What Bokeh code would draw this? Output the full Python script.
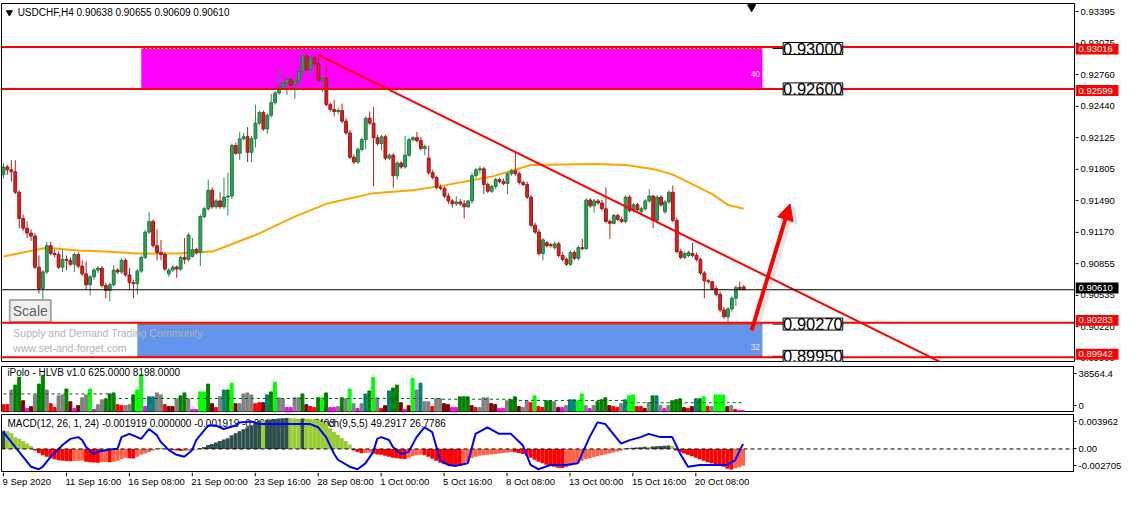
from bokeh.plotting import figure
from bokeh.models import (Range1d, FixedTicker, Span, Label, Arrow, NormalHead)
from bokeh.layouts import column, row
from bokeh.embed import file_html
from bokeh.resources import INLINE
from bokeh.core.properties import value

# ---------------- data ----------------
symbol = "USDCHF,H4"

open_ = [
    0.91750, 0.91827, 0.91798, 0.91779, 0.91576, 0.91316, 0.91220, 0.91171, 0.91142, 0.90834,
    0.90622, 0.90786, 0.91046, 0.90969, 0.90959, 0.90834, 0.90911, 0.90901, 0.90863, 0.90959,
    0.90844, 0.90767, 0.90660, 0.90738, 0.90805, 0.90824, 0.90651, 0.90603, 0.90660, 0.90805,
    0.90786, 0.90901, 0.90757, 0.90680, 0.90670, 0.90795, 0.90930, 0.91181, 0.91287, 0.91046,
    0.90979, 0.90959, 0.90767, 0.90805, 0.90834, 0.90815, 0.90930, 0.90911, 0.90940, 0.91008,
    0.90979, 0.91335, 0.91412, 0.91596, 0.91432, 0.91490, 0.91432, 0.91528, 0.91538, 0.92039,
    0.91962, 0.92106, 0.92126, 0.91972, 0.92106, 0.92261, 0.92367, 0.92203, 0.92338, 0.92463,
    0.92560, 0.92617, 0.92656, 0.92695, 0.92637, 0.92675, 0.92772, 0.92926, 0.92791, 0.92907,
    0.92849, 0.92685, 0.92704, 0.92444, 0.92396, 0.92376, 0.92386, 0.92280, 0.92164, 0.91923,
    0.91875, 0.92000, 0.92097, 0.92309, 0.92261, 0.92116, 0.92058, 0.92126, 0.91914, 0.91943,
    0.91740, 0.91865, 0.91827, 0.91943, 0.92097, 0.92116, 0.92087, 0.92010, 0.91914, 0.91769,
    0.91721, 0.91624, 0.91615, 0.91538, 0.91490, 0.91461, 0.91480, 0.91461, 0.91432, 0.91490,
    0.91740, 0.91798, 0.91808, 0.91653, 0.91586, 0.91634, 0.91702, 0.91682, 0.91663, 0.91759,
    0.91788, 0.91759, 0.91673, 0.91653, 0.91528, 0.91249, 0.91181, 0.90969, 0.91075, 0.91056,
    0.91027, 0.91065, 0.90950, 0.90911, 0.90863, 0.90979, 0.90921, 0.91027, 0.91017, 0.91499,
    0.91441, 0.91490, 0.91470, 0.91412, 0.91287, 0.91268, 0.91345, 0.91306, 0.91287, 0.91528,
    0.91393, 0.91451, 0.91383, 0.91412, 0.91490, 0.91538, 0.91297, 0.91528, 0.91383, 0.91480,
    0.91576, 0.91297, 0.90988, 0.90930, 0.90950, 0.90969, 0.90950, 0.90911, 0.90776, 0.90699,
    0.90689, 0.90622, 0.90564, 0.90410, 0.90342, 0.90420, 0.90526, 0.90632, 0.90638]

high = [
    0.91865, 0.91846, 0.91894, 0.91894, 0.91596, 0.91355, 0.91287, 0.91210, 0.91171, 0.90950,
    0.90805, 0.91085, 0.91085, 0.91008, 0.90988, 0.91008, 0.90950, 0.90930, 0.90979, 0.90979,
    0.90901, 0.90892, 0.90757, 0.90824, 0.90844, 0.90844, 0.90680, 0.90680, 0.90853, 0.90824,
    0.90921, 0.90921, 0.90824, 0.90709, 0.90815, 0.90950, 0.91200, 0.91383, 0.91306, 0.91210,
    0.91104, 0.90979, 0.90824, 0.90853, 0.90853, 0.90950, 0.91123, 0.91171, 0.91123, 0.91027,
    0.91355, 0.91432, 0.91702, 0.91624, 0.91509, 0.91576, 0.91721, 0.91769, 0.92058, 0.92068,
    0.92174, 0.92164, 0.92222, 0.92135, 0.92444, 0.92386, 0.92386, 0.92357, 0.92550, 0.92579,
    0.92791, 0.92675, 0.92714, 0.92714, 0.92695, 0.92791, 0.92955, 0.92955, 0.92926, 0.92926,
    0.92936, 0.92723, 0.92858, 0.92463, 0.92492, 0.92415, 0.92454, 0.92309, 0.92193, 0.91952,
    0.92020, 0.92116, 0.92328, 0.92376, 0.92425, 0.92145, 0.92145, 0.92145, 0.91962, 0.91962,
    0.91885, 0.91885, 0.92135, 0.92116, 0.92135, 0.92174, 0.92126, 0.92049, 0.92039, 0.91798,
    0.91740, 0.91653, 0.91634, 0.91567, 0.91509, 0.91538, 0.91509, 0.91499, 0.91499, 0.91769,
    0.91817, 0.91837, 0.91827, 0.91673, 0.91653, 0.91721, 0.91721, 0.91711, 0.91779, 0.91808,
    0.91972, 0.91779, 0.91692, 0.91682, 0.91547, 0.91277, 0.91210, 0.91123, 0.91094, 0.91075,
    0.91085, 0.91085, 0.90979, 0.90930, 0.90998, 0.90998, 0.91046, 0.91114, 0.91518, 0.91518,
    0.91509, 0.91509, 0.91499, 0.91624, 0.91306, 0.91364, 0.91364, 0.91335, 0.91547, 0.91547,
    0.91470, 0.91470, 0.91432, 0.91509, 0.91605, 0.91547, 0.91547, 0.91547, 0.91499, 0.91596,
    0.91644, 0.91326, 0.91017, 0.90988, 0.90998, 0.91075, 0.90979, 0.90930, 0.90795, 0.90718,
    0.90699, 0.90651, 0.90593, 0.90439, 0.90439, 0.90545, 0.90651, 0.90689, 0.90655]

low = [
    0.91711, 0.91750, 0.91682, 0.91557, 0.91220, 0.91191, 0.91123, 0.91094, 0.90815, 0.90574,
    0.90506, 0.90767, 0.90950, 0.90930, 0.90815, 0.90786, 0.90805, 0.90844, 0.90786, 0.90824,
    0.90747, 0.90612, 0.90554, 0.90709, 0.90776, 0.90632, 0.90526, 0.90497, 0.90641, 0.90767,
    0.90767, 0.90738, 0.90603, 0.90526, 0.90564, 0.90776, 0.90911, 0.91162, 0.91027, 0.90901,
    0.90901, 0.90795, 0.90738, 0.90786, 0.90728, 0.90795, 0.90863, 0.90892, 0.90930, 0.90959,
    0.90844, 0.91316, 0.91393, 0.91412, 0.91412, 0.91412, 0.91412, 0.91345, 0.91509, 0.91943,
    0.91894, 0.92087, 0.91875, 0.91875, 0.92020, 0.92241, 0.92184, 0.92155, 0.92319, 0.92444,
    0.92540, 0.92589, 0.92540, 0.92617, 0.92502, 0.92656, 0.92743, 0.92772, 0.92714, 0.92830,
    0.92666, 0.92569, 0.92425, 0.92376, 0.92328, 0.92347, 0.92261, 0.92145, 0.91904, 0.91856,
    0.91856, 0.91981, 0.92000, 0.92241, 0.91634, 0.92039, 0.91991, 0.91894, 0.91894, 0.91624,
    0.91702, 0.91808, 0.91808, 0.91923, 0.92078, 0.92068, 0.91991, 0.91943, 0.91750, 0.91702,
    0.91605, 0.91596, 0.91518, 0.91461, 0.91422, 0.91441, 0.91441, 0.91316, 0.91422, 0.91461,
    0.91721, 0.91759, 0.91557, 0.91567, 0.91567, 0.91605, 0.91663, 0.91644, 0.91557, 0.91740,
    0.91740, 0.91653, 0.91634, 0.91509, 0.91229, 0.91162, 0.90950, 0.90901, 0.91027, 0.91027,
    0.91008, 0.90930, 0.90892, 0.90844, 0.90844, 0.90901, 0.90901, 0.90998, 0.91008, 0.91422,
    0.91374, 0.91451, 0.91393, 0.91268, 0.91114, 0.91258, 0.91287, 0.91268, 0.91268, 0.91374,
    0.91374, 0.91383, 0.91364, 0.91393, 0.91470, 0.91220, 0.91277, 0.91432, 0.91364, 0.91461,
    0.91277, 0.90969, 0.90911, 0.90911, 0.90930, 0.90930, 0.90892, 0.90757, 0.90526, 0.90670,
    0.90603, 0.90545, 0.90391, 0.90323, 0.90285, 0.90391, 0.90448, 0.90603, 0.90609]

close = [
    0.91827, 0.91798, 0.91779, 0.91576, 0.91316, 0.91220, 0.91171, 0.91142, 0.90834, 0.90622,
    0.90786, 0.91046, 0.90969, 0.90959, 0.90834, 0.90911, 0.90901, 0.90863, 0.90959, 0.90844,
    0.90767, 0.90660, 0.90738, 0.90805, 0.90824, 0.90651, 0.90603, 0.90660, 0.90805, 0.90786,
    0.90901, 0.90757, 0.90680, 0.90670, 0.90795, 0.90930, 0.91181, 0.91287, 0.91046, 0.90979,
    0.90959, 0.90815, 0.90805, 0.90834, 0.90815, 0.90930, 0.90911, 0.91152, 0.91008, 0.90979,
    0.91335, 0.91412, 0.91596, 0.91432, 0.91490, 0.91432, 0.91528, 0.91538, 0.92039, 0.91962,
    0.92106, 0.92126, 0.91972, 0.92106, 0.92261, 0.92367, 0.92203, 0.92338, 0.92463, 0.92560,
    0.92617, 0.92656, 0.92695, 0.92637, 0.92675, 0.92772, 0.92926, 0.92791, 0.92907, 0.92849,
    0.92685, 0.92704, 0.92444, 0.92396, 0.92376, 0.92386, 0.92280, 0.92164, 0.91923, 0.91875,
    0.92000, 0.92097, 0.92309, 0.92261, 0.92116, 0.92058, 0.92126, 0.91914, 0.91943, 0.91740,
    0.91865, 0.91827, 0.91943, 0.92097, 0.92116, 0.92087, 0.92010, 0.92029, 0.91769, 0.91721,
    0.91624, 0.91615, 0.91538, 0.91490, 0.91461, 0.91480, 0.91461, 0.91432, 0.91490, 0.91740,
    0.91798, 0.91808, 0.91653, 0.91586, 0.91634, 0.91702, 0.91682, 0.91663, 0.91759, 0.91788,
    0.91759, 0.91673, 0.91653, 0.91528, 0.91249, 0.91181, 0.90969, 0.91104, 0.91046, 0.91046,
    0.91065, 0.90950, 0.90911, 0.90863, 0.90979, 0.90921, 0.91027, 0.91017, 0.91499, 0.91441,
    0.91490, 0.91470, 0.91412, 0.91287, 0.91268, 0.91345, 0.91306, 0.91287, 0.91528, 0.91393,
    0.91451, 0.91403, 0.91412, 0.91490, 0.91538, 0.91297, 0.91528, 0.91451, 0.91480, 0.91576,
    0.91297, 0.90988, 0.90930, 0.90969, 0.90979, 0.90950, 0.90911, 0.90776, 0.90699, 0.90689,
    0.90622, 0.90564, 0.90410, 0.90342, 0.90420, 0.90526, 0.90632, 0.90622, 0.90610]

# moving average (orange), sampled points
ma_idx = [0, 11, 19, 26, 34, 44, 49, 53, 57, 64, 74, 82, 94, 104, 112, 124, 134, 150,
          158, 166, 170, 174, 180, 184, 188]
ma_val = [0.90940, 0.91027, 0.90998, 0.90988, 0.90969, 0.90969, 0.90979, 0.90988, 0.91046,
          0.91152, 0.91335, 0.91461, 0.91567, 0.91596, 0.91644, 0.91731, 0.91846, 0.91856,
          0.91846, 0.91798, 0.91750, 0.91673, 0.91557, 0.91451, 0.91412]

# supply / demand zones
zone_left = [35, 34]
zone_right = [192.75, 192.75]
zone_top = [0.93000, 0.90270]
zone_bottom = [0.92600, 0.89950]
zone_strength = ["40", "32"]
level_lines = [0.93016, 0.92599, 0.90283, 0.89942]
level_labels = [0.93000, 0.92600, 0.90270, 0.89950]
trend_idx = [80, 240]
trend_val = [0.92938, 0.89854]
price_ticks = [0.93395, 0.93075, 0.92760, 0.92440, 0.92125, 0.91805, 0.91490, 0.91170,
               0.90855, 0.90535, 0.90220, 0.89900]

# volume indicator (iPolo HLVB)
volume = [
    5866, 5866, 18436, 22626, 29330, 9218, 2514, 4190, 14246, 23464,
    31006, 18436, 6704, 3352, 13408, 14246, 19274, 8380, 2514, 5028,
    11732, 14246, 19274, 1676, 5866, 10056, 10894, 15084, 15922, 5866,
    5028, 5028, 5866, 14246, 18436, 31844, 4190, 12570, 12570, 15922,
    14246, 5866, 4190, 4190, 10894, 13408, 15922, 10894, 1676, 1676,
    16760, 16760, 23464, 6704, 3352, 12570, 18436, 18436, 24302, 6704,
    6704, 15084, 15922, 14246, 6704, 7542, 7542, 14246, 16760, 25140,
    11732, 10894, 3352, 3352, 11732, 11732, 15084, 5866, 4190, 3352,
    11732, 11732, 15922, 3352, 3352, 4190, 11732, 10894, 19274, 6704,
    2514, 6704, 15084, 17598, 29330, 11732, 2514, 5028, 17598, 20112,
    22626, 7542, 1676, 5028, 28492, 18436, 24302, 8380, 8380, 4190,
    10894, 10894, 6704, 5866, 3352, 3352, 12570, 12570, 12570, 5028,
    3352, 3352, 11732, 11732, 6704, 5866, 2514, 2514, 9218, 10056,
    12570, 4190, 3352, 9218, 7542, 13408, 4190, 3352, 9218, 9218,
    8380, 3352, 3352, 5028, 10056, 10056, 9218, 15084, 5028, 2514,
    5028, 8380, 10056, 11732, 5028, 4190, 3352, 6704, 10056, 13408,
    14246, 4190, 4190, 2514, 7542, 13408, 13408, 5028, 2514, 5028,
    9218, 10056, 10894, 3352, 2514, 4190, 10894, 10894, 12570, 4190,
    4190, 14246, 14246, 14246, 4190, 5028, 1676, 838, 838]
vol_class = list(
    "RRYGGMPMYG" "GYRRYYGMPM" "YYLPYYGGGR" "RYYGLLPTTY" "YRMMYGGYPP"
    "LLGMRYTGLM" "YYYYRRMTGL" "YYPPYYGMRR" "GLGPPYGYLY" "PYTGLYRMTG"
    "GMPMLYTYYR" "YYMMPPGGGM" "RYYYMMPPYG" "GMYYRLRRGG" "YMPYTTLLYP"
    "YGGGMRRYTL" "LRRMYGTYPY" "GGGMRMTGLR" "YLLLMYRPP")
vol_avg_idx = [0, 27, 27, 111, 111, 131, 131, 158, 158, 188]
vol_avg = [15080, 15080, 11150, 11150, 10500, 10500, 9470, 9470, 7540, 7540]
vol_max = 38564.4

# MACD(12,26,1,24) histogram and Stoch(9,5,5) main line
macd = [
    0.002091, 0.002034, 0.001808, 0.001356, 0.001187, 0.000904, 0.000622, 0.000339, -0.000170, -0.000452,
    -0.000735, -0.000904, -0.001074, -0.001187, -0.001300, -0.001356, -0.001390, -0.001413, -0.001379, -0.001356,
    -0.001333, -0.001458, -0.001526, -0.001548, -0.001571, -0.001526, -0.001492, -0.001537, -0.001469, -0.001356,
    -0.001187, -0.001017, -0.001074, -0.001107, -0.000904, -0.000678, -0.000509, -0.000339, -0.000170, 0.000034,
    0.000057, 0.000034, -0.000057, -0.000113, -0.000170, -0.000226, -0.000203, -0.000170, -0.000136, -0.000057,
    0.000090, 0.000226, 0.000452, 0.000565, 0.000735, 0.000904, 0.001074, 0.001243, 0.001582, 0.001808,
    0.002034, 0.002260, 0.002486, 0.002712, 0.002938, 0.003277, 0.003254, 0.003334, 0.003390, 0.003447,
    0.003503, 0.003537, 0.003560, 0.003526, 0.003492, 0.003458, 0.003503, 0.003480, 0.003458, 0.003413,
    0.003334, 0.003164, 0.002938, 0.002373, 0.001978, 0.001639, 0.001243, 0.000904, 0.000509, -0.000170,
    -0.000339, -0.000486, -0.000452, -0.000418, -0.000509, -0.000622, -0.000678, -0.000791, -0.000904, -0.001017,
    -0.001074, -0.001130, -0.001153, -0.001017, -0.000848, -0.000735, -0.000678, -0.000735, -0.000904, -0.001130,
    -0.001356, -0.001582, -0.001752, -0.001842, -0.001898, -0.001921, -0.001944, -0.001808, -0.001469, -0.001074,
    -0.000904, -0.000791, -0.000735, -0.000678, -0.000622, -0.000565, -0.000509, -0.000452, -0.000396, -0.000339,
    -0.000373, -0.000452, -0.000565, -0.000791, -0.001017, -0.001243, -0.001469, -0.001639, -0.001808, -0.001921,
    -0.002034, -0.002147, -0.002181, -0.002091, -0.001921, -0.001752, -0.001582, -0.001356, -0.001187, -0.001074,
    -0.000961, -0.000848, -0.000735, -0.000622, -0.000509, -0.000396, -0.000283, -0.000170, 0.000057, 0.000090,
    0.000136, 0.000170, 0.000203, 0.000249, 0.000226, 0.000283, 0.000316, 0.000339, 0.000362, 0.000396,
    0.000339, -0.000170, -0.000339, -0.000509, -0.000678, -0.000848, -0.001017, -0.001187, -0.001356, -0.001526,
    -0.001639, -0.001752, -0.001865, -0.002034, -0.002260, -0.002373, -0.002204, -0.002091, -0.001919]
macd_lo, macd_hi = -0.002705, 0.003962

stoch_idx = [0, 2, 5, 7, 9, 10, 12, 15, 17, 19, 20, 21, 23, 24, 27, 29, 30, 32, 34, 35, 37, 39,
             40, 42, 44, 46, 48, 49, 52, 54, 56, 59, 60, 63, 65, 68, 73, 78, 80, 82, 84, 85, 88,
             90, 92, 94, 95, 96, 98, 99, 101, 103, 105, 107, 109, 111, 113, 115, 118, 120, 123,
             126, 129, 132, 134, 136, 139, 143, 146, 149, 151, 153, 155, 157, 159, 162, 164,
             167, 170, 172, 174, 177, 181, 184, 186, 188]
stoch_val = [69.5, 52.5, 27, 10, 5.6, 10, 27, 47.5, 58, 61, 56, 44, 32, 35.6, 39.5, 41, 61, 66.6,
             61, 58, 75, 64.4, 52.5, 39, 30.5, 27, 39, 56, 81, 81, 75, 81, 86.4, 88, 83.5, 83.5,
             83.5, 83.5, 78, 61, 32.7, 22, 10, 5.6, 15.8, 35.6, 58, 61, 56, 44, 32, 35.6, 61, 78,
             69.5, 21.5, 13, 11.4, 15.8, 66.6, 78, 66.6, 66.6, 47, 13, 5.6, 13, 13, 15.8, 61,
             86.4, 83.5, 66.6, 49.7, 55.4, 61, 66.6, 61, 61, 32.7, 10, 13, 13, 13, 21.5, 49.29]

date_idx = [0, 16, 32, 48, 64, 80, 96, 112, 128, 144, 160, 176]
date_labels = ["9 Sep 2020", "11 Sep 16:00", "16 Sep 08:00", "21 Sep 00:00", "23 Sep 16:00",
               "28 Sep 08:00", "1 Oct 00:00", "5 Oct 16:00", "8 Oct 08:00", "13 Oct 00:00",
               "15 Oct 16:00", "20 Oct 08:00"]

# ---------------- styling ----------------
FONT = "Liberation Sans"
W = 1124
RB = 50          # right border of lower panels (axis area)
AXW = RB - 1     # width of the main panel's price-scale strip
LB = 1
H_MAIN, H_VOL, H_MACD, H_DATES = 364, 48, 60, 21
MB = 3           # main panel top/bottom border
xr = Range1d(-0.5, 272)
vol_colors = {"L": "#00FF00", "G": "#008000", "Y": "#808080", "R": "#FF0000",
              "M": "#800000", "P": "#FF00FF", "T": "#008080"}


def style_axis(ax):
    ax.axis_line_color = "black"
    ax.major_tick_out = 3
    ax.major_tick_in = 0
    ax.minor_tick_line_color = None
    ax.major_label_standoff = 2
    ax.major_label_text_font = FONT
    ax.major_label_text_font_size = "9.5px"
    ax.major_label_text_color = "black"


def base_fig(height, y_range, top, bottom):
    f = figure(width=W, height=height, x_range=xr, y_range=y_range,
               output_backend="svg", toolbar_location=None,
               x_axis_location=None, y_axis_location="right",
               min_border_left=LB, min_border_right=RB,
               min_border_top=top, min_border_bottom=bottom)
    f.xgrid.visible = False
    f.ygrid.visible = False
    f.outline_line_color = "black"
    f.outline_line_width = 1
    f.border_fill_color = "white"
    style_axis(f.yaxis[0])
    return f


n = len(close)
idx = list(range(n))

# ---------------- main price panel ----------------
ymin, ymax = 0.89899, 0.93446
yr_main = Range1d(ymin, ymax)
p = figure(width=W - AXW, height=H_MAIN, x_range=xr, y_range=yr_main,
           output_backend="svg", toolbar_location=None,
           x_axis_location=None, y_axis_location=None,
           min_border_left=LB, min_border_right=1, min_border_top=MB, min_border_bottom=MB)
p.xgrid.visible = False
p.ygrid.visible = False
p.outline_line_color = "black"
p.border_fill_color = "white"
ppp = (H_MAIN - 2 * MB) / (ymax - ymin)   # pixels per price unit

# zones
zone_fill = ["#FF00FF", "#6495ED"]
zone_dash = ["#FFFF00", "#32CD32"]
p.quad(left=zone_left, right=zone_right, top=zone_top, bottom=zone_bottom,
       fill_color=zone_fill, line_color=None)
for l, r, t, b, dc in zip(zone_left, zone_right, zone_top, zone_bottom, zone_dash):
    p.segment(x0=[l, l], x1=[r, r], y0=[t, b], y1=[t, b], line_color="red", line_width=1)
    p.segment(x0=[l, l], x1=[r, r], y0=[t, b], y1=[t, b], line_color=dc,
              line_width=1, line_dash="2 2")
for t, b, r, s in zip(zone_top, zone_bottom, zone_right, zone_strength):
    frac = 0.37 if s == "40" else 0.29
    p.text(x=[r - 0.6], y=[b + frac * (t - b)], text=[s], text_align="right",
           text_baseline="middle", text_font=value(FONT), text_font_size="8.5px",
           text_color="#F4E4F4")

# watermark + Scale button
p.add_layout(Label(x=2.5, y=0.90178, text="Supply and Demand Trading Community",
                   text_font=FONT, text_font_size="10.5px", text_color="#B4B4B4",
                   text_baseline="middle"))
p.add_layout(Label(x=2.5, y=0.90034, text="www.set-and-forget.com",
                   text_font=FONT, text_font_size="10.5px", text_color="#B4B4B4",
                   text_baseline="middle"))
p.add_layout(Label(x=1.6, y=0.90400, text="Scale", text_font=FONT,
                   text_font_size="14px", text_color="#606060", text_baseline="middle",
                   background_fill_color="#F0F0F0", border_line_color="#A8A8A8",
                   border_line_width=2, padding=3))

# moving average
p.line(ma_idx, ma_val, line_color="#FFA500", line_width=2)

# candles
up = [c >= o for o, c in zip(open_, close)]
wick_col = ["#2E8B57" if u else "#B22222" for u in up]
body_fill = ["#2DA35A" if u else "#D42020" for u in up]
body_line = ["#1E7A40" if u else "#A81515" for u in up]
p.segment(x0=idx, x1=idx, y0=low, y1=high, line_color=wick_col, line_width=1)
p.vbar(x=idx, width=0.72, top=[max(o, c) for o, c in zip(open_, close)],
       bottom=[min(o, c) for o, c in zip(open_, close)],
       fill_color=body_fill, line_color=body_line, line_width=1)

# trend line
p.line(trend_idx, trend_val, line_color="red", line_width=2)

# horizontal levels
for lv in level_lines:
    p.add_layout(Span(location=lv, dimension="width", line_color="red", line_width=2))
p.add_layout(Span(location=close[-1], dimension="width", line_color="black", line_width=1))

# boxed level labels with leader lines
for lv in level_labels:
    p.segment(x0=[195.3], x1=[198], y0=[lv], y1=[lv], line_color="black", line_width=1)
    p.add_layout(Label(x=198, y=lv, text=f"{lv:.5f}", text_font=FONT,
                       text_font_size="16.5px", text_color="black",
                       text_baseline="middle", text_align="left",
                       background_fill_color="white", border_line_color="black",
                       border_line_width=1, padding=0))

# arrow (with soft shadow)
p.add_layout(Arrow(end=NormalHead(size=16, fill_color="#999999", line_color="#999999",
                                  fill_alpha=0.25, line_alpha=0.25),
                   x_start=191.0, y_start=0.90180, x_end=200.75, y_end=0.91434,
                   line_color="#999999", line_alpha=0.25, line_width=4))
p.add_layout(Arrow(end=NormalHead(size=16, fill_color="red", line_color="red"),
                   x_start=190, y_start=0.90207, x_end=199.75, y_end=0.91461,
                   line_color="red", line_width=4))

# header
title_y = ymax - 9 / ppp
p.add_layout(Label(x=3.6, y=title_y,
                   text=f"{symbol}  {open_[-1]:.5f} {high[-1]:.5f} {low[-1]:.5f} {close[-1]:.5f}",
                   text_font=FONT, text_font_size="10px", text_color="black",
                   text_baseline="middle"))
p.scatter(x=[1.5], y=[title_y], marker="inverted_triangle", size=6, color="black")
p.scatter(x=[n + 1], y=[ymax - 3.5 / ppp], marker="inverted_triangle", size=8,
          color="black")

# ---------------- main price scale strip (ticks, labels, price tags) ----------------
pa = figure(width=AXW, height=H_MAIN, x_range=Range1d(0, AXW),
            y_range=Range1d(ymin - MB / ppp, ymax + MB / ppp),
            output_backend="svg", toolbar_location=None,
            x_axis_location=None, y_axis_location=None,
            min_border_left=0, min_border_right=0, min_border_top=0, min_border_bottom=0)
pa.xgrid.visible = False
pa.ygrid.visible = False
pa.outline_line_color = None
pa.border_fill_color = "white"
pa.background_fill_color = "white"
nt = len(price_ticks)
pa.segment(x0=[0] * nt, x1=[3] * nt, y0=price_ticks, y1=price_ticks, line_color="black")
pa.text(x=[5] * nt, y=price_ticks, text=[f"{t:.5f}" for t in price_ticks],
        text_font=value(FONT), text_font_size="9.5px", text_color="black",
        text_baseline="middle", text_align="left")
tag_vals = level_lines + [close[-1]]
tag_cols = ["#FF0000"] * len(level_lines) + ["#000000"]
half = 5.5 / ppp
pa.quad(left=[0] * len(tag_vals), right=[43] * len(tag_vals),
        top=[v + half for v in tag_vals], bottom=[v - half for v in tag_vals],
        fill_color=tag_cols, line_color=None)
pa.text(x=[3] * len(tag_vals), y=tag_vals, text=[f"{v:.5f}" for v in tag_vals],
        text_font=value(FONT), text_font_size="9.5px", text_color="white",
        text_baseline="middle", text_align="left")

# ---------------- volume panel ----------------
pv = base_fig(H_VOL, Range1d(0, vol_max), 2, 1)
vol_frame = H_VOL - 3
vt_hi = vol_max * (1 - 7 / vol_frame)
vt_lo = vol_max * 6 / vol_frame
pv.yaxis.ticker = FixedTicker(ticks=[vt_lo, vt_hi])
pv.yaxis.major_label_overrides = {vt_hi: f"{vol_max:.1f}", vt_lo: "0"}
pv.vbar(x=idx, top=volume, bottom=0, width=0.75,
        color=[vol_colors[c] for c in vol_class])
pv.line(vol_avg_idx, vol_avg, line_color="#006400", line_width=1, line_dash="3 3")
pv.add_layout(Label(x=1, y=vol_max * (1 - 6 / vol_frame),
                    text="iPolo - HLVB v1.0 625.0000 8198.0000", text_font=FONT,
                    text_font_size="10px", text_color="black", text_baseline="middle"))

# ---------------- MACD / Stoch panel ----------------
pm = base_fig(H_MACD, Range1d(macd_lo, macd_hi), 2, 0)
m_frame = H_MACD - 2
m_px = (macd_hi - macd_lo) / m_frame
mt_hi = macd_hi - 7 * m_px
mt_lo = macd_lo + 7 * m_px
pm.yaxis.ticker = FixedTicker(ticks=[mt_lo, 0, mt_hi])
pm.yaxis.major_label_overrides = {mt_hi: f"{macd_hi:.6f}", 0: "0.00", mt_lo: f"{macd_lo:.6f}"}
pm.extra_y_ranges = {"stoch": Range1d(0, 100)}

ty = macd_hi - 9 * m_px
pm.text(x=[1], y=[ty], text=["MACD(12, 26, 1, 24) -0.001919 0.000000 -0.001919 -0.001919 -0.001403"],
        text_font=value(FONT), text_font_size="10px", text_color="black",
        text_baseline="middle")
pm.text(x=[78.8], y=[ty], text=["Stoch(9,5,5) 49.2917 26.7786"],
        text_font=value(FONT), text_font_size="10px", text_color="black",
        text_baseline="middle")

macd_col = []
for i, v in enumerate(macd):
    prev = macd[i - 1] if i > 0 else v - 1
    if v >= 0:
        macd_col.append("#2F4F4F" if v > prev else "#9ACD32")
    else:
        macd_col.append("#FF0000" if v < prev else "#FF6347")
pm.vbar(x=idx, top=macd, bottom=0, width=1.0, fill_color=macd_col, line_color=None)
pm.add_layout(Span(location=0, dimension="width", line_color="black", line_width=1,
                   line_dash="4 3"))
pm.line(stoch_idx, stoch_val, y_range_name="stoch", line_color="#0000FF", line_width=2)

# ---------------- date strip ----------------
ps = figure(width=W, height=H_DATES, x_range=xr, y_range=Range1d(0, 1),
            output_backend="svg", toolbar_location=None,
            x_axis_location=None, y_axis_location=None,
            min_border_left=LB, min_border_right=RB, min_border_top=0, min_border_bottom=0)
ps.xgrid.visible = False
ps.ygrid.visible = False
ps.outline_line_color = None
k = len(date_idx)
ps.segment(x0=date_idx, x1=date_idx, y0=[1] * k, y1=[0.82] * k, line_color="black")
ps.text(x=date_idx, y=[0.56] * k, text=date_labels, x_offset=-1, text_align="left",
        text_baseline="middle", text_font=value(FONT), text_font_size="9.5px",
        text_color="black")

layout = column(row(p, pa, spacing=0), pv, pm, ps, spacing=0)
open("out.html", "w").write(file_html(layout, INLINE, title="USDCHF,H4"))
